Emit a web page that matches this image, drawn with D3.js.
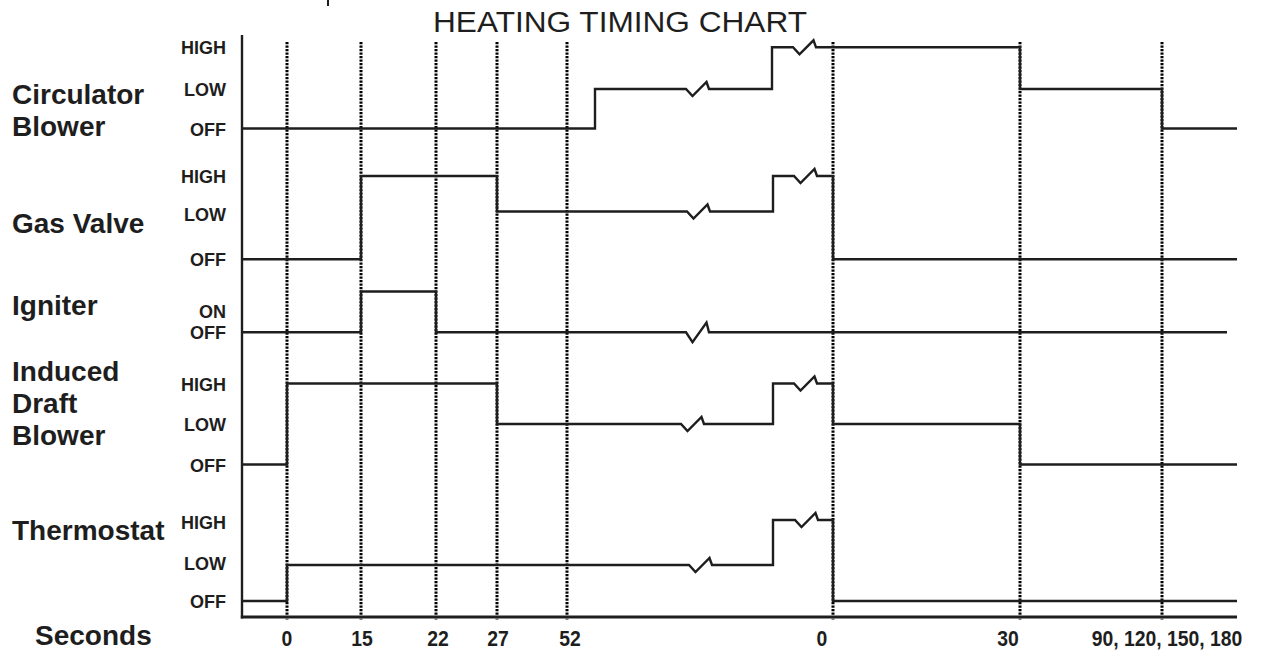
<!DOCTYPE html>
<html>
<head>
<meta charset="utf-8">
<script src="https://cdn.jsdelivr.net/npm/d3@7"></script>
<style>
  html, body { margin: 0; padding: 0; background: #fff; }
  svg { display: block; }
  text { font-family: "Liberation Sans", Arial, Helvetica, sans-serif; fill: #1e1e1e; }
</style>
</head>
<body>
<svg id="chart" width="1273" height="652"></svg>
<script>
// ---------------- DATA ----------------
// Horizontal positions are schematic chart units (the chart is not to scale in time).
const markerPositions = [45, 119, 194, 255, 325, 591, 778, 920];
const tickLabels = ["0", "15", "22", "27", "52", "0", "30", "90, 120, 150, 180"];
const tickLabelPositions = [45, 120, 196, 256, 328, 580, 766, 925];

const seriesNames = [["Circulator", "Blower"], ["Gas Valve"], ["Igniter"], ["Induced", "Draft", "Blower"], ["Thermostat"]];

const circulatorLevels = ["OFF", "LOW", "HIGH"];
const circulatorSteps = [[0, "OFF"], [353, "LOW"], [530, "HIGH"], [778, "LOW"], [920, "OFF"]];
const circulatorBreaks = [444, 551];
const circulatorEnd = 995;

const gasValveLevels = ["OFF", "LOW", "HIGH"];
const gasValveSteps = [[0, "OFF"], [119, "HIGH"], [255, "LOW"], [531, "HIGH"], [591, "OFF"]];
const gasValveBreaks = [445, 552];
const gasValveEnd = 995;

const igniterLevels = ["OFF", "ON"];
const igniterSteps = [[0, "OFF"], [119, "ON"], [194, "OFF"]];
const igniterBreaks = [444];
const igniterEnd = 985;

const inducerLevels = ["OFF", "LOW", "HIGH"];
const inducerSteps = [[0, "OFF"], [45, "HIGH"], [255, "LOW"], [531, "HIGH"], [591, "LOW"], [778, "OFF"]];
const inducerBreaks = [439, 552];
const inducerEnd = 995;

const thermostatLevels = ["OFF", "LOW", "HIGH"];
const thermostatSteps = [[0, "OFF"], [45, "LOW"], [531, "HIGH"], [591, "OFF"]];
const thermostatBreaks = [447, 553];
const thermostatEnd = 995;

// ---------------- LAYOUT ----------------
const svg = d3.select("#chart");
const x = d3.scaleLinear().domain([0, 995]).range([242, 1237]);
const plotTop = 35, plotBottom = 617;
const ink = "#1e1e1e";

// row positions (pixels) for each level of each trace, in level order
const series = [
  { names: seriesNames[0], levels: circulatorLevels, steps: circulatorSteps, breaks: circulatorBreaks, end: circulatorEnd,
    rows: [128.5, 89, 47.3], nameBase: 104, zig: 1 },
  { names: seriesNames[1], levels: gasValveLevels, steps: gasValveSteps, breaks: gasValveBreaks, end: gasValveEnd,
    rows: [259.3, 211.5, 176], nameBase: 233, zig: 1, labelShift: { LOW: 2 } },
  { names: seriesNames[2], levels: igniterLevels, steps: igniterSteps, breaks: igniterBreaks, end: igniterEnd,
    rows: [332.3, 291.5], nameBase: 315, zig: 1.4, labelShift: { ON: 19 } },
  { names: seriesNames[3], levels: inducerLevels, steps: inducerSteps, breaks: inducerBreaks, end: inducerEnd,
    rows: [464.5, 424, 383.5], nameBase: 381, zig: 1 },
  { names: seriesNames[4], levels: thermostatLevels, steps: thermostatSteps, breaks: thermostatBreaks, end: thermostatEnd,
    rows: [601, 565, 520], nameBase: 540, zig: 1, labelShift: { LOW: -2, HIGH: 2 } }
];

// Title
svg.append("text")
  .attr("x", 620).attr("y", 32)
  .attr("text-anchor", "middle")
  .attr("textLength", 374).attr("lengthAdjust", "spacingAndGlyphs")
  .style("font-size", "30px")
  .text("HEATING TIMING CHART");

// small stray tick at top
svg.append("line").attr("x1", 328).attr("x2", 328).attr("y1", 0).attr("y2", 6)
  .attr("stroke", ink).attr("stroke-width", 2);

// Dotted marker lines
svg.append("g").selectAll("line").data(markerPositions).join("line")
  .attr("x1", d => x(d)).attr("x2", d => x(d))
  .attr("y1", 42).attr("y2", 620)
  .attr("stroke", "#000").attr("stroke-width", 3)
  .attr("stroke-dasharray", "2.2,1.3");

// Axes
svg.append("line").attr("x1", x(0)).attr("x2", x(0)).attr("y1", plotTop).attr("y2", plotBottom + 1.5)
  .attr("stroke", ink).attr("stroke-width", 2.4);
svg.append("line").attr("x1", x(0) - 1.2).attr("x2", x(995)).attr("y1", plotBottom).attr("y2", plotBottom)
  .attr("stroke", ink).attr("stroke-width", 3);

// Tick labels (condensed bold)
svg.append("g").selectAll("text").data(tickLabels).join("text")
  .attr("transform", (d, i) => `translate(${x(tickLabelPositions[i])},646) scale(0.88,1)`)
  .attr("text-anchor", "middle")
  .style("font-size", "22px").style("font-weight", "bold")
  .text(d => d);

svg.append("text").attr("x", 35).attr("y", 645)
  .style("font-size", "28px").style("font-weight", "bold").text("Seconds");

const line = d3.line();

series.forEach(s => {
  const y = d3.scaleOrdinal().domain(s.levels).range(s.rows);

  // series name
  const t = svg.append("text").attr("x", 12).attr("y", s.nameBase)
    .style("font-size", "28px").style("font-weight", "bold");
  s.names.forEach((n, i) => {
    t.append("tspan").attr("x", 12).attr("dy", i === 0 ? 0 : 32).text(n);
  });

  // level labels
  svg.append("g").selectAll("text").data(s.levels).join("text")
    .attr("x", 226)
    .attr("y", d => y(d) + 7 + ((s.labelShift && s.labelShift[d]) || 0))
    .attr("text-anchor", "end")
    .style("font-size", "18px").style("font-weight", "bold")
    .text(d => d);

  // build step path with break zigzags
  const events = [];
  s.steps.forEach((d, i) => { if (i > 0) events.push({ t: d[0], type: "step", level: d[1] }); });
  s.breaks.forEach(b => events.push({ t: b, type: "break" }));
  events.sort((a, b) => a.t - b.t);
  let lvl = s.steps[0][1];
  const pts = [[x(s.steps[0][0]), y(lvl)]];
  const k = s.zig;
  events.forEach(e => {
    const px = x(e.t);
    if (e.type === "step") {
      pts.push([px, y(lvl)]);
      lvl = e.level;
      pts.push([px, y(lvl)]);
    } else {
      const yy = y(lvl);
      pts.push([px, yy], [px + 6.5, yy + 7 * k], [px + 20.5, yy - 7 * k], [px + 23, yy]);
    }
  });
  pts.push([x(s.end), y(lvl)]);

  svg.append("path").attr("d", line(pts))
    .attr("fill", "none").attr("stroke", ink).attr("stroke-width", 2.4)
    .attr("stroke-linejoin", "miter");
});
</script>
</body>
</html>
